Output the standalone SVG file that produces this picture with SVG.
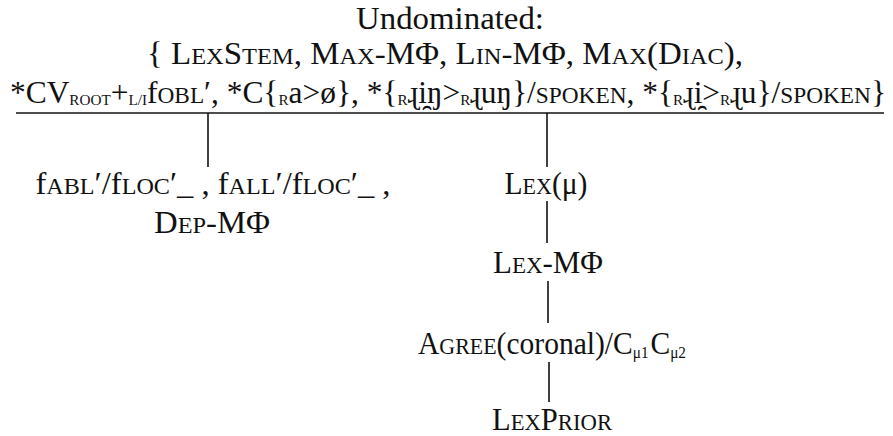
<svg xmlns="http://www.w3.org/2000/svg" width="893" height="436" viewBox="0 0 893 436">
<style>
text{font-family:"Liberation Serif","DejaVu Serif",serif;font-size:31px;fill:#111;}
.sc{font-size:23px;}
.sub{font-size:16px;}
.subsc{font-size:15px;}
line{stroke:#111;stroke-width:1.6;}
</style>
<rect width="893" height="436" fill="#fff"/>
<g id="undominated">
<text x="450" y="29" text-anchor="middle" textLength="188" lengthAdjust="spacingAndGlyphs">Undominated:</text>
<text x="445" y="64" text-anchor="middle" textLength="596" lengthAdjust="spacingAndGlyphs">{ L<tspan class="sc">EX</tspan>S<tspan class="sc">TEM</tspan>,  M<tspan class="sc">AX</tspan>-MΦ, L<tspan class="sc">IN</tspan>-MΦ, M<tspan class="sc">AX</tspan>(D<tspan class="sc">IAC</tspan>),</text>
<text x="448" y="103" text-anchor="middle" textLength="876" lengthAdjust="spacingAndGlyphs">*CV<tspan class="subsc" baseline-shift="-2">ROOT</tspan>+<tspan class="subsc" baseline-shift="-2">L/I</tspan>f<tspan class="sc">OBL</tspan>′, *C{<tspan class="subsc" baseline-shift="-2">R</tspan>a&gt;ø}, *{<tspan class="subsc" baseline-shift="-2">R</tspan>ɻi̯ŋ&gt;<tspan class="subsc" baseline-shift="-2">R</tspan>ɻuŋ}/<tspan class="sc">SPOKEN</tspan>, *{<tspan class="subsc" baseline-shift="-2">R</tspan>ɻi̯&gt;<tspan class="subsc" baseline-shift="-2">R</tspan>ɻu}/<tspan class="sc">SPOKEN</tspan>}</text>
<line x1="16" y1="113" x2="884" y2="113"/>
</g>
<g id="connectors">
<line x1="208" y1="113" x2="208" y2="167"/>
<line x1="547" y1="113" x2="547" y2="167"/>
<line x1="547" y1="201" x2="547" y2="243"/>
<line x1="548" y1="281" x2="548" y2="323"/>
<line x1="549" y1="362" x2="549" y2="402"/>
</g>
<g id="node-fabl">
<text x="213" y="194" text-anchor="middle" textLength="355" lengthAdjust="spacingAndGlyphs">f<tspan class="sc">ABL</tspan>′/f<tspan class="sc">LOC</tspan>′_ , f<tspan class="sc">ALL</tspan>′/f<tspan class="sc">LOC</tspan>′_ ,</text>
<text x="212" y="233" text-anchor="middle" textLength="116" lengthAdjust="spacingAndGlyphs">D<tspan class="sc">EP</tspan>-MΦ</text>
</g>
<g id="node-lexmu">
<text x="546" y="194" text-anchor="middle" textLength="83" lengthAdjust="spacingAndGlyphs">L<tspan class="sc">EX</tspan>(μ)</text>
</g>
<g id="node-lexmphi">
<text x="548" y="273" text-anchor="middle" textLength="110" lengthAdjust="spacingAndGlyphs">L<tspan class="sc">EX</tspan>-MΦ</text>
</g>
<g id="node-agree">
<text x="552" y="354" text-anchor="middle" textLength="268" lengthAdjust="spacingAndGlyphs">A<tspan class="sc">GREE</tspan>(coronal)/C<tspan class="sub" baseline-shift="-4">μ1</tspan><tspan dx="2">C</tspan><tspan class="sub" baseline-shift="-4">μ2</tspan></text>
</g>
<g id="node-lexprior">
<text x="552" y="430" text-anchor="middle" textLength="120" lengthAdjust="spacingAndGlyphs">L<tspan class="sc">EX</tspan>P<tspan class="sc">RIOR</tspan></text>
</g>
</svg>
